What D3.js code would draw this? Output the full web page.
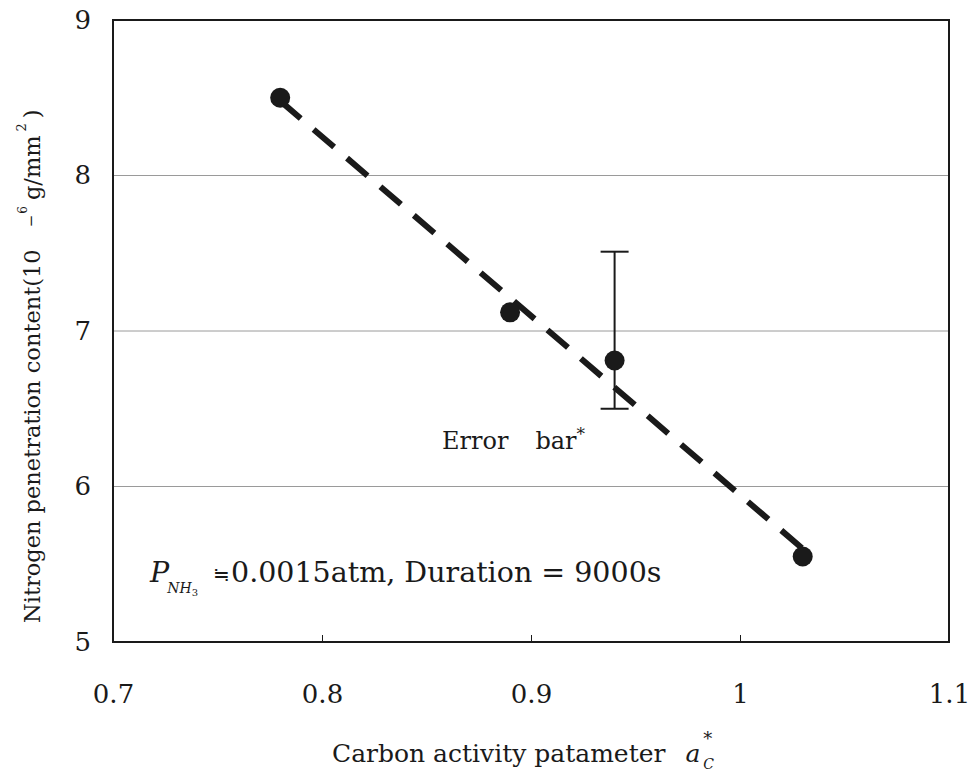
<!DOCTYPE html>
<html>
<head>
<meta charset="utf-8">
<script src="https://cdn.jsdelivr.net/npm/d3@7"></script>
<style>
  html, body { margin: 0; padding: 0; background: #fff; }
  svg { display: block; }
  text { font-family: "DejaVu Serif", "Liberation Serif", serif; fill: #1a1a1a; }
</style>
</head>
<body>
<svg id="chart" width="969" height="771"></svg>
<script>
// ---- data ----
const xValues = [0.78, 0.89, 0.94, 1.03];
const yValues = [8.50, 7.12, 6.81, 5.55];
const errX = [0.94];
const errLow = [6.50];
const errHigh = [7.51];
const fitX = [0.78, 1.03];
const fitY = [8.48, 5.60];
const xTicks = [0.7, 0.8, 0.9, 1.0, 1.1];
const xTickLabels = ["0.7", "0.8", "0.9", "1", "1.1"];
const yTicks = [5, 6, 7, 8, 9];
const yTickLabels = ["5", "6", "7", "8", "9"];
const gridValues = [6, 7, 8];

// ---- layout ----
const plot = { left: 113, right: 949, top: 20, bottom: 642 };
const ink = "#1a1a1a";

const svg = d3.select("#chart");
const x = d3.scaleLinear().domain([0.7, 1.1]).range([plot.left, plot.right]);
const y = d3.scaleLinear().domain([5, 9]).range([plot.bottom, plot.top]);

// gridlines
svg.append("g").selectAll("line").data(gridValues).join("line")
  .attr("x1", plot.left).attr("x2", plot.right)
  .attr("y1", d => y(d)).attr("y2", d => y(d))
  .attr("stroke", "#9a9a9a").attr("stroke-width", 1);

// x axis
const xAxis = svg.append("g")
  .attr("transform", `translate(0,${plot.bottom})`)
  .call(d3.axisBottom(x).tickValues(xTicks)
    .tickFormat((d, i) => xTickLabels[i])
    .tickSize(-7).tickSizeOuter(0).tickPadding(43));
xAxis.select(".domain").remove();
xAxis.selectAll("line").attr("stroke", ink).attr("stroke-width", 1);
xAxis.selectAll("text").attr("font-size", 26).attr("fill", ink)
  .attr("font-family", "DejaVu Serif");

// y axis
const yAxis = svg.append("g")
  .attr("transform", `translate(${plot.left},0)`)
  .call(d3.axisLeft(y).tickValues(yTicks)
    .tickFormat((d, i) => yTickLabels[i])
    .tickSize(0).tickPadding(22));
yAxis.select(".domain").remove();
yAxis.selectAll("text").attr("font-size", 26).attr("fill", ink)
  .attr("font-family", "DejaVu Serif");

// frame
svg.append("rect")
  .attr("x", plot.left).attr("y", plot.top)
  .attr("width", plot.right - plot.left).attr("height", plot.bottom - plot.top)
  .attr("fill", "none").attr("stroke", ink).attr("stroke-width", 2);

// fitted dashed line
const fitData = fitX.map((v, i) => [v, fitY[i]]);
svg.append("path")
  .datum(fitData)
  .attr("d", d3.line().x(d => x(d[0])).y(d => y(d[1])))
  .attr("fill", "none").attr("stroke", ink)
  .attr("stroke-width", 6).attr("stroke-dasharray", "27,17");

// error bar
const eb = svg.append("g");
errX.forEach((ex, i) => {
  eb.append("line").attr("x1", x(ex)).attr("x2", x(ex))
    .attr("y1", y(errLow[i])).attr("y2", y(errHigh[i]))
    .attr("stroke", ink).attr("stroke-width", 2);
  [errLow[i], errHigh[i]].forEach(v => {
    eb.append("line").attr("x1", x(ex) - 14).attr("x2", x(ex) + 14)
      .attr("y1", y(v)).attr("y2", y(v))
      .attr("stroke", ink).attr("stroke-width", 2);
  });
});

// points
const pts = xValues.map((v, i) => [v, yValues[i]]);
svg.append("g").selectAll("circle").data(pts).join("circle")
  .attr("cx", d => x(d[0])).attr("cy", d => y(d[1]))
  .attr("r", 10).attr("fill", ink);

// annotations
const err = svg.append("text").attr("x", 442).attr("y", 449).attr("font-size", 24);
err.append("tspan").text("Error");
err.append("tspan").attr("dx", 27).text("bar");
err.append("tspan").attr("dy", -9).attr("font-size", 17).text("*");

const note = svg.append("text").attr("x", 150).attr("y", 582).attr("font-size", 28.5);
note.append("tspan").attr("font-style", "italic").text("P");
note.append("tspan").attr("font-style", "italic").attr("font-size", 14).attr("dx", -2).attr("dy", 11).text("NH");
note.append("tspan").attr("font-size", 10).attr("dy", 3).text("3");
note.append("tspan").attr("font-size", 20).attr("dy", -15).attr("dx", 15)
  .attr("font-family", "Noto Sans CJK JP").text("\u2252");
note.append("tspan").attr("dy", 1).attr("dx", 1).text("0.0015atm, Duration = 9000s");

// x title
const xt = svg.append("text").attr("x", 332).attr("y", 762).attr("font-size", 25);
xt.append("tspan").text("Carbon activity patameter");
xt.append("tspan").attr("dx", 20).attr("font-style", "italic").attr("font-size", 25).text("a");
xt.append("tspan").attr("font-size", 18).attr("dx", 3).attr("dy", -17).text("*");
xt.append("tspan").attr("font-size", 14).attr("font-style", "italic").attr("dx", -9).attr("dy", 24).text("C");

// y title
const yt = svg.append("text").attr("transform", "translate(40,623) rotate(-90)").attr("font-size", 22.5);
yt.append("tspan").text("Nitrogen penetration content(10");
yt.append("tspan").attr("font-size", 15).attr("dx", 22).attr("dy", -4).text("\u2212");
yt.append("tspan").attr("font-size", 12).attr("dx", 1).attr("dy", -9).text("6");
yt.append("tspan").attr("dx", 6).attr("dy", 13).text("g/mm");
yt.append("tspan").attr("font-size", 13).attr("dx", 4).attr("dy", -14).text("2");
yt.append("tspan").attr("dx", 5).attr("dy", 14).text(")");
</script>
</body>
</html>
